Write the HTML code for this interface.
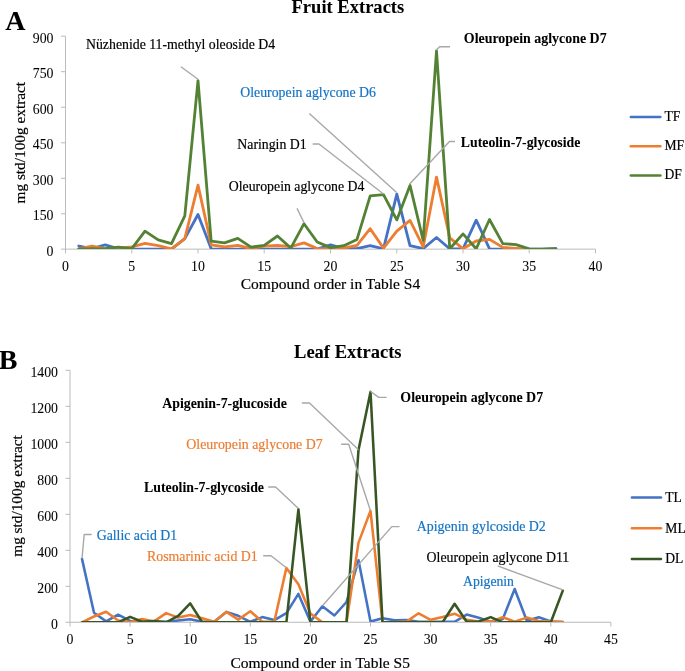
<!DOCTYPE html>
<html><head><meta charset="utf-8"><title>Fruit and Leaf Extracts</title>
<style>html,body{margin:0;padding:0;background:#fff;}svg{display:block;will-change:transform;opacity:0.999;}text{font-family:"Liberation Serif",serif;}</style></head>
<body>
<svg width="685" height="671" viewBox="0 0 685 671" font-family="Liberation Serif, serif">
<rect width="685" height="671" fill="#fff"/>
<g stroke="#BBBBBB" stroke-width="1" fill="none">
<line x1="65.5" y1="36.2" x2="65.5" y2="253.35"/>
<line x1="61.0" y1="249.15" x2="595.5" y2="249.15"/>
<line x1="61.0" y1="213.8" x2="65.5" y2="213.8"/>
<line x1="61.0" y1="178.3" x2="65.5" y2="178.3"/>
<line x1="61.0" y1="142.8" x2="65.5" y2="142.8"/>
<line x1="61.0" y1="107.2" x2="65.5" y2="107.2"/>
<line x1="61.0" y1="71.7" x2="65.5" y2="71.7"/>
<line x1="61.0" y1="36.2" x2="65.5" y2="36.2"/>
<line x1="131.8" y1="249.15" x2="131.8" y2="253.35"/>
<line x1="198.0" y1="249.15" x2="198.0" y2="253.35"/>
<line x1="264.2" y1="249.15" x2="264.2" y2="253.35"/>
<line x1="330.5" y1="249.15" x2="330.5" y2="253.35"/>
<line x1="396.8" y1="249.15" x2="396.8" y2="253.35"/>
<line x1="463.0" y1="249.15" x2="463.0" y2="253.35"/>
<line x1="529.2" y1="249.15" x2="529.2" y2="253.35"/>
<line x1="595.5" y1="249.15" x2="595.5" y2="253.35"/>
</g>
<text x="53.5" y="255.8" font-size="13.8" font-weight="normal" fill="#000" stroke="#000" stroke-width="0.05" text-anchor="end" >0</text>
<text x="53.5" y="220.3" font-size="13.8" font-weight="normal" fill="#000" stroke="#000" stroke-width="0.05" text-anchor="end" >150</text>
<text x="53.5" y="184.8" font-size="13.8" font-weight="normal" fill="#000" stroke="#000" stroke-width="0.05" text-anchor="end" >300</text>
<text x="53.5" y="149.2" font-size="13.8" font-weight="normal" fill="#000" stroke="#000" stroke-width="0.05" text-anchor="end" >450</text>
<text x="53.5" y="113.7" font-size="13.8" font-weight="normal" fill="#000" stroke="#000" stroke-width="0.05" text-anchor="end" >600</text>
<text x="53.5" y="78.2" font-size="13.8" font-weight="normal" fill="#000" stroke="#000" stroke-width="0.05" text-anchor="end" >750</text>
<text x="53.5" y="42.7" font-size="13.8" font-weight="normal" fill="#000" stroke="#000" stroke-width="0.05" text-anchor="end" >900</text>
<text x="65.5" y="271.0" font-size="13.8" font-weight="normal" fill="#000" stroke="#000" stroke-width="0.05" text-anchor="middle" >0</text>
<text x="131.8" y="271.0" font-size="13.8" font-weight="normal" fill="#000" stroke="#000" stroke-width="0.05" text-anchor="middle" >5</text>
<text x="198.0" y="271.0" font-size="13.8" font-weight="normal" fill="#000" stroke="#000" stroke-width="0.05" text-anchor="middle" >10</text>
<text x="264.2" y="271.0" font-size="13.8" font-weight="normal" fill="#000" stroke="#000" stroke-width="0.05" text-anchor="middle" >15</text>
<text x="330.5" y="271.0" font-size="13.8" font-weight="normal" fill="#000" stroke="#000" stroke-width="0.05" text-anchor="middle" >20</text>
<text x="396.8" y="271.0" font-size="13.8" font-weight="normal" fill="#000" stroke="#000" stroke-width="0.05" text-anchor="middle" >25</text>
<text x="463.0" y="271.0" font-size="13.8" font-weight="normal" fill="#000" stroke="#000" stroke-width="0.05" text-anchor="middle" >30</text>
<text x="529.2" y="271.0" font-size="13.8" font-weight="normal" fill="#000" stroke="#000" stroke-width="0.05" text-anchor="middle" >35</text>
<text x="595.5" y="271.0" font-size="13.8" font-weight="normal" fill="#000" stroke="#000" stroke-width="0.05" text-anchor="middle" >40</text>
<g stroke="#BBBBBB" stroke-width="1" fill="none">
<line x1="70.0" y1="370.3" x2="70.0" y2="626.45"/>
<line x1="65.5" y1="622.25" x2="610.9" y2="622.25"/>
<line x1="65.5" y1="586.3" x2="70.0" y2="586.3"/>
<line x1="65.5" y1="550.3" x2="70.0" y2="550.3"/>
<line x1="65.5" y1="514.3" x2="70.0" y2="514.3"/>
<line x1="65.5" y1="478.3" x2="70.0" y2="478.3"/>
<line x1="65.5" y1="442.3" x2="70.0" y2="442.3"/>
<line x1="65.5" y1="406.3" x2="70.0" y2="406.3"/>
<line x1="65.5" y1="370.3" x2="70.0" y2="370.3"/>
<line x1="130.1" y1="622.25" x2="130.1" y2="626.45"/>
<line x1="190.2" y1="622.25" x2="190.2" y2="626.45"/>
<line x1="250.3" y1="622.25" x2="250.3" y2="626.45"/>
<line x1="310.4" y1="622.25" x2="310.4" y2="626.45"/>
<line x1="370.5" y1="622.25" x2="370.5" y2="626.45"/>
<line x1="430.6" y1="622.25" x2="430.6" y2="626.45"/>
<line x1="490.7" y1="622.25" x2="490.7" y2="626.45"/>
<line x1="550.8" y1="622.25" x2="550.8" y2="626.45"/>
<line x1="610.9" y1="622.25" x2="610.9" y2="626.45"/>
</g>
<text x="58.0" y="628.9" font-size="13.8" font-weight="normal" fill="#000" stroke="#000" stroke-width="0.05" text-anchor="end" >0</text>
<text x="58.0" y="592.9" font-size="13.8" font-weight="normal" fill="#000" stroke="#000" stroke-width="0.05" text-anchor="end" >200</text>
<text x="58.0" y="556.9" font-size="13.8" font-weight="normal" fill="#000" stroke="#000" stroke-width="0.05" text-anchor="end" >400</text>
<text x="58.0" y="520.9" font-size="13.8" font-weight="normal" fill="#000" stroke="#000" stroke-width="0.05" text-anchor="end" >600</text>
<text x="58.0" y="484.9" font-size="13.8" font-weight="normal" fill="#000" stroke="#000" stroke-width="0.05" text-anchor="end" >800</text>
<text x="58.0" y="448.9" font-size="13.8" font-weight="normal" fill="#000" stroke="#000" stroke-width="0.05" text-anchor="end" >1000</text>
<text x="58.0" y="412.9" font-size="13.8" font-weight="normal" fill="#000" stroke="#000" stroke-width="0.05" text-anchor="end" >1200</text>
<text x="58.0" y="376.9" font-size="13.8" font-weight="normal" fill="#000" stroke="#000" stroke-width="0.05" text-anchor="end" >1400</text>
<text x="70.0" y="644.1" font-size="13.8" font-weight="normal" fill="#000" stroke="#000" stroke-width="0.05" text-anchor="middle" >0</text>
<text x="130.1" y="644.1" font-size="13.8" font-weight="normal" fill="#000" stroke="#000" stroke-width="0.05" text-anchor="middle" >5</text>
<text x="190.2" y="644.1" font-size="13.8" font-weight="normal" fill="#000" stroke="#000" stroke-width="0.05" text-anchor="middle" >10</text>
<text x="250.3" y="644.1" font-size="13.8" font-weight="normal" fill="#000" stroke="#000" stroke-width="0.05" text-anchor="middle" >15</text>
<text x="310.4" y="644.1" font-size="13.8" font-weight="normal" fill="#000" stroke="#000" stroke-width="0.05" text-anchor="middle" >20</text>
<text x="370.5" y="644.1" font-size="13.8" font-weight="normal" fill="#000" stroke="#000" stroke-width="0.05" text-anchor="middle" >25</text>
<text x="430.6" y="644.1" font-size="13.8" font-weight="normal" fill="#000" stroke="#000" stroke-width="0.05" text-anchor="middle" >30</text>
<text x="490.7" y="644.1" font-size="13.8" font-weight="normal" fill="#000" stroke="#000" stroke-width="0.05" text-anchor="middle" >35</text>
<text x="550.8" y="644.1" font-size="13.8" font-weight="normal" fill="#000" stroke="#000" stroke-width="0.05" text-anchor="middle" >40</text>
<text x="610.9" y="644.1" font-size="13.8" font-weight="normal" fill="#000" stroke="#000" stroke-width="0.05" text-anchor="middle" >45</text>
<clipPath id="ca"><rect x="0" y="0" width="685" height="249.00"/></clipPath><clipPath id="cb"><rect x="0" y="300" width="685" height="322.10"/></clipPath>
<g clip-path="url(#ca)">
<polyline points="78.8,246.0 92.0,248.6 105.2,244.8 118.5,248.8 131.8,249.1 145.0,249.1 158.2,249.1 171.5,249.1 184.8,238.6 198.0,214.5 211.2,248.8 224.5,249.1 237.8,249.1 251.0,249.1 264.2,249.1 277.5,249.1 290.8,249.1 304.0,249.1 317.2,249.1 330.5,244.8 343.8,248.6 357.0,248.6 370.2,245.7 383.5,248.8 396.8,194.1 410.0,245.7 423.2,248.6 436.5,237.5 449.8,248.8 463.0,248.8 476.2,220.2 489.5,248.8 502.8,249.1 516.0,249.1 529.2,249.1 542.5,249.1 555.8,248.6" fill="none" stroke="#4472C4" stroke-width="2.8" stroke-linejoin="round" stroke-linecap="round"/>
<polyline points="78.8,248.8 92.0,246.0 105.2,248.6 118.5,248.1 131.8,246.9 145.0,243.4 158.2,245.7 171.5,248.8 184.8,238.6 198.0,185.1 211.2,244.8 224.5,246.9 237.8,245.3 251.0,248.6 264.2,246.2 277.5,245.5 290.8,246.7 304.0,242.9 317.2,248.6 330.5,248.8 343.8,248.1 357.0,245.3 370.2,228.7 383.5,248.1 396.8,231.1 410.0,220.4 423.2,246.9 436.5,177.1 449.8,237.9 463.0,248.8 476.2,241.0 489.5,239.4 502.8,247.4 516.0,248.4 529.2,249.3" fill="none" stroke="#ED7D31" stroke-width="2.8" stroke-linejoin="round" stroke-linecap="round"/>
<polyline points="78.8,248.8 92.0,248.8 105.2,248.6 118.5,247.2 131.8,248.6 145.0,231.1 158.2,239.8 171.5,243.6 184.8,215.9 198.0,80.7 211.2,241.2 224.5,242.9 237.8,238.4 251.0,247.2 264.2,245.3 277.5,236.0 290.8,248.1 304.0,223.7 317.2,242.0 330.5,247.6 343.8,245.7 357.0,239.4 370.2,195.8 383.5,194.6 396.8,219.9 410.0,185.4 423.2,240.5 436.5,50.9 449.8,248.8 463.0,233.9 476.2,248.8 489.5,219.5 502.8,243.6 516.0,244.6 529.2,248.8 542.5,249.1 555.8,248.6" fill="none" stroke="#548235" stroke-width="2.8" stroke-linejoin="round" stroke-linecap="round"/>
</g>
<g clip-path="url(#cb)">
<polyline points="82.0,558.9 94.0,612.8 106.1,621.4 118.1,614.7 130.1,620.9 142.1,621.8 154.1,621.8 166.2,621.8 178.2,620.5 190.2,619.2 202.2,621.8 214.2,621.8 226.3,611.9 238.3,615.8 250.3,621.8 262.3,617.1 274.3,620.1 286.4,613.1 298.4,593.9 310.4,621.6 322.4,606.3 334.4,615.5 346.5,602.0 358.5,560.2 370.5,621.6 382.5,618.2 394.5,620.3 406.6,620.0 418.6,621.8 430.6,621.8 442.6,621.8 454.6,621.8 466.7,614.6 478.7,617.8 490.7,621.6 502.7,619.1 514.7,589.0 526.8,620.7 538.8,617.3 550.8,621.4 562.8,621.9" fill="none" stroke="#4472C4" stroke-width="2.55" stroke-linejoin="round" stroke-linecap="round"/>
<polyline points="82.0,622.3 94.0,616.5 106.1,611.7 118.1,620.5 130.1,622.3 142.1,618.9 154.1,621.4 166.2,613.1 178.2,617.6 190.2,614.9 202.2,618.3 214.2,621.8 226.3,611.9 238.3,619.6 250.3,611.3 262.3,621.8 274.3,621.8 286.4,567.9 298.4,584.3 310.4,613.5 322.4,622.3 334.4,622.3 346.5,622.3 358.5,542.6 370.5,510.9 382.5,622.3 394.5,622.3 406.6,621.6 418.6,613.3 430.6,619.8 442.6,616.9 454.6,613.7 466.7,619.8 478.7,621.6 490.7,621.6 502.7,617.3 514.7,621.6 526.8,617.6 538.8,620.9 550.8,621.4 562.8,621.9" fill="none" stroke="#ED7D31" stroke-width="2.55" stroke-linejoin="round" stroke-linecap="round"/>
<polyline points="82.0,622.3 94.0,622.3 106.1,622.3 118.1,622.3 130.1,616.9 142.1,621.8 154.1,621.0 166.2,622.3 178.2,615.8 190.2,603.4 202.2,622.3 214.2,622.3 226.3,622.3 238.3,622.3 250.3,622.3 262.3,622.3 274.3,622.3 286.4,622.3 298.4,509.3 310.4,622.3 322.4,622.3 334.4,622.3 346.5,622.3 358.5,449.9 370.5,391.9 382.5,622.3 394.5,622.3 406.6,622.3 418.6,622.3 430.6,622.3 442.6,622.3 454.6,603.8 466.7,621.8 478.7,621.4 490.7,617.1 502.7,622.3 514.7,622.3 526.8,622.3 538.8,622.3 550.8,622.3 562.8,590.6" fill="none" stroke="#375623" stroke-width="2.55" stroke-linejoin="round" stroke-linecap="round"/>
</g>
<polyline points="180.9,66.8 198.0,79.3" fill="none" stroke="#A8A8A8" stroke-width="1.4" stroke-linejoin="round"/>
<polyline points="309.3,113.6 396.6,192.5" fill="none" stroke="#A8A8A8" stroke-width="1.4" stroke-linejoin="round"/>
<polyline points="312.7,144.0 319.0,144.0 383.5,194.0" fill="none" stroke="#A8A8A8" stroke-width="1.4" stroke-linejoin="round"/>
<polyline points="297.0,208.4 304.2,223.0" fill="none" stroke="#A8A8A8" stroke-width="1.4" stroke-linejoin="round"/>
<polyline points="450.0,46.8 439.6,46.8 436.4,50.0" fill="none" stroke="#A8A8A8" stroke-width="1.4" stroke-linejoin="round"/>
<polyline points="455.0,141.5 449.5,141.5 409.4,184.2" fill="none" stroke="#A8A8A8" stroke-width="1.4" stroke-linejoin="round"/>
<polyline points="91.7,534.5 84.2,534.5 82.0,558.5" fill="none" stroke="#A8A8A8" stroke-width="1.4" stroke-linejoin="round"/>
<polyline points="263.2,555.7 271.0,555.7 286.3,567.7" fill="none" stroke="#A8A8A8" stroke-width="1.4" stroke-linejoin="round"/>
<polyline points="268.2,487.0 275.6,487.0 298.4,508.6" fill="none" stroke="#A8A8A8" stroke-width="1.4" stroke-linejoin="round"/>
<polyline points="301.9,403.0 309.5,403.0 358.5,449.8" fill="none" stroke="#A8A8A8" stroke-width="1.4" stroke-linejoin="round"/>
<polyline points="341.1,444.3 348.7,444.3 370.4,510.5" fill="none" stroke="#A8A8A8" stroke-width="1.4" stroke-linejoin="round"/>
<polyline points="386.6,397.4 378.8,397.4 370.4,391.2" fill="none" stroke="#A8A8A8" stroke-width="1.4" stroke-linejoin="round"/>
<polyline points="399.5,526.6 391.8,526.6 322.5,605.7" fill="none" stroke="#A8A8A8" stroke-width="1.4" stroke-linejoin="round"/>
<polyline points="497.7,565.9 562.8,589.8" fill="none" stroke="#A8A8A8" stroke-width="1.4" stroke-linejoin="round"/>
<text x="347.9" y="12.6" font-size="18.55" font-weight="bold" fill="#000" stroke="#000" stroke-width="0.05" text-anchor="middle" >Fruit Extracts</text>
<text x="347.8" y="357.6" font-size="18.55" font-weight="bold" fill="#000" stroke="#000" stroke-width="0.05" text-anchor="middle" >Leaf Extracts</text>
<text x="5.3" y="29.5" font-size="28" font-weight="bold" fill="#000" stroke="#000" stroke-width="0.05" text-anchor="start" >A</text>
<text x="-1.2" y="368.9" font-size="28" font-weight="bold" fill="#000" stroke="#000" stroke-width="0.05" text-anchor="start" >B</text>
<text x="330.5" y="288.6" font-size="15.5" font-weight="normal" fill="#000" stroke="#000" stroke-width="0.18" text-anchor="middle" >Compound order in Table S4</text>
<text x="320.2" y="668.0" font-size="15.5" font-weight="normal" fill="#000" stroke="#000" stroke-width="0.18" text-anchor="middle" >Compound order in Table S5</text>
<text transform="translate(24.5,142.7) rotate(-90)" font-size="15.3" text-anchor="middle" stroke="#000" stroke-width="0.18">mg std/100g extract</text>
<text transform="translate(21.5,496) rotate(-90)" font-size="15.3" text-anchor="middle" stroke="#000" stroke-width="0.18">mg std/100g extract</text>
<text x="86.0" y="49.0" font-size="13.8" font-weight="normal" fill="#000" stroke="#000" stroke-width="0.18" text-anchor="start" >Nüzhenide 11-methyl oleoside D4</text>
<text x="240.3" y="96.5" font-size="13.8" font-weight="normal" fill="#1474C4" stroke="#1474C4" stroke-width="0.18" text-anchor="start" >Oleuropein aglycone D6</text>
<text x="237.3" y="148.9" font-size="13.8" font-weight="normal" fill="#000" stroke="#000" stroke-width="0.18" text-anchor="start" >Naringin D1</text>
<text x="228.8" y="191.3" font-size="13.8" font-weight="normal" fill="#000" stroke="#000" stroke-width="0.18" text-anchor="start" >Oleuropein aglycone D4</text>
<text x="463.8" y="43.3" font-size="13.93" font-weight="bold" fill="#000" stroke="#000" stroke-width="0.05" text-anchor="start" >Oleuropein aglycone D7</text>
<text x="460.8" y="146.5" font-size="13.8" font-weight="bold" fill="#000" stroke="#000" stroke-width="0.05" text-anchor="start" >Luteolin-7-glycoside</text>
<text x="162.2" y="408.3" font-size="13.85" font-weight="bold" fill="#000" stroke="#000" stroke-width="0.05" text-anchor="start" >Apigenin-7-glucoside</text>
<text x="186.3" y="448.9" font-size="13.88" font-weight="normal" fill="#ED7D31" stroke="#ED7D31" stroke-width="0.18" text-anchor="start" >Oleuropein aglycone D7</text>
<text x="144.0" y="491.9" font-size="13.85" font-weight="bold" fill="#000" stroke="#000" stroke-width="0.05" text-anchor="start" >Luteolin-7-glycoside</text>
<text x="96.7" y="540.3" font-size="13.8" font-weight="normal" fill="#1474C4" stroke="#1474C4" stroke-width="0.18" text-anchor="start" >Gallic acid D1</text>
<text x="147.0" y="560.6" font-size="13.85" font-weight="normal" fill="#ED7D31" stroke="#ED7D31" stroke-width="0.18" text-anchor="start" >Rosmarinic acid D1</text>
<text x="400.3" y="402.1" font-size="13.93" font-weight="bold" fill="#000" stroke="#000" stroke-width="0.05" text-anchor="start" >Oleuropein aglycone D7</text>
<text x="416.7" y="531.3" font-size="13.93" font-weight="normal" fill="#1474C4" stroke="#1474C4" stroke-width="0.18" text-anchor="start" >Apigenin gylcoside D2</text>
<text x="426.6" y="562.4" font-size="13.86" font-weight="normal" fill="#000" stroke="#000" stroke-width="0.18" text-anchor="start" >Oleuropein aglycone D11</text>
<text x="463.0" y="586.2" font-size="13.7" font-weight="normal" fill="#1474C4" stroke="#1474C4" stroke-width="0.18" text-anchor="start" >Apigenin</text>
<line x1="630.8" y1="117.1" x2="660.4" y2="117.1" stroke="#4472C4" stroke-width="2.5" stroke-linecap="round"/>
<text x="664.5" y="121.0" font-size="13.6" font-weight="normal" fill="#000" stroke="#000" stroke-width="0.18" text-anchor="start" >TF</text>
<line x1="630.8" y1="146.3" x2="660.4" y2="146.3" stroke="#ED7D31" stroke-width="2.5" stroke-linecap="round"/>
<text x="664.5" y="150.2" font-size="13.6" font-weight="normal" fill="#000" stroke="#000" stroke-width="0.18" text-anchor="start" >MF</text>
<line x1="630.8" y1="175.4" x2="660.4" y2="175.4" stroke="#548235" stroke-width="2.5" stroke-linecap="round"/>
<text x="664.5" y="179.3" font-size="13.6" font-weight="normal" fill="#000" stroke="#000" stroke-width="0.18" text-anchor="start" >DF</text>
<line x1="631.9" y1="497.4" x2="661" y2="497.4" stroke="#4472C4" stroke-width="2.5" stroke-linecap="round"/>
<text x="665.3" y="501.7" font-size="13.6" font-weight="normal" fill="#000" stroke="#000" stroke-width="0.18" text-anchor="start" >TL</text>
<line x1="631.9" y1="528.2" x2="661" y2="528.2" stroke="#ED7D31" stroke-width="2.5" stroke-linecap="round"/>
<text x="665.3" y="532.5" font-size="13.6" font-weight="normal" fill="#000" stroke="#000" stroke-width="0.18" text-anchor="start" >ML</text>
<line x1="631.9" y1="559" x2="661" y2="559" stroke="#375623" stroke-width="2.5" stroke-linecap="round"/>
<text x="665.3" y="563.3" font-size="13.6" font-weight="normal" fill="#000" stroke="#000" stroke-width="0.18" text-anchor="start" >DL</text>
</svg>
</body></html>
